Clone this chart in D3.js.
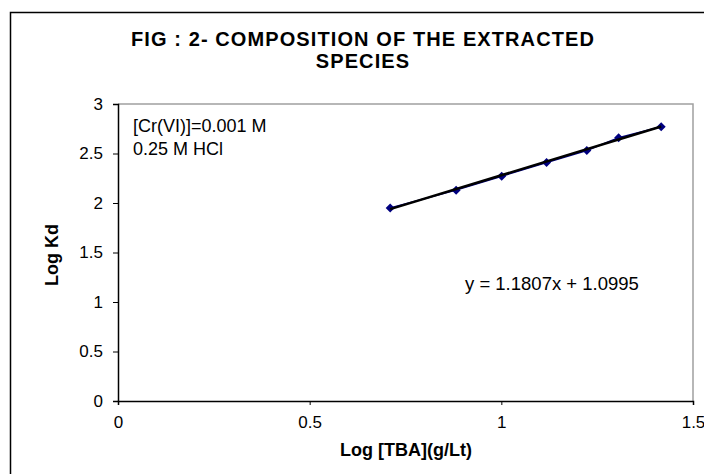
<!DOCTYPE html>
<html><head><meta charset="utf-8">
<script src="https://cdn.jsdelivr.net/npm/d3@7"></script>
<style>body{margin:0;background:#fff}svg{display:block}text{font-family:"Liberation Sans",Arial,sans-serif;fill:#000}</style>
</head><body>
<script>
const logTBA = [0.710, 0.882, 1.001, 1.118, 1.223, 1.306, 1.417];
const logKd  = [1.95, 2.13, 2.27, 2.41, 2.53, 2.66, 2.77];
const xTicks = [0, 0.5, 1, 1.5];
const xTickLabels = ["0", "0.5", "1", "1.5"];
const yTicks = [0, 0.5, 1, 1.5, 2, 2.5, 3];
const yTickLabels = ["0", "0.5", "1", "1.5", "2", "2.5", "3"];
const fitSlope = 1.1807, fitIntercept = 1.0995;
const titleLines = ["FIG : 2- COMPOSITION OF THE EXTRACTED", "SPECIES"];
const notes = ["[Cr(VI)]=0.001 M", "0.25 M HCl"];

const W = 704, H = 474;
const FONT = "Liberation Sans, Arial, sans-serif";
const svg = d3.select("body").append("svg").attr("width", W).attr("height", H);
svg.append("rect").attr("x", 10.5).attr("y", 12.5).attr("width", 720).attr("height", 500)
  .attr("fill", "#fff").attr("stroke", "#000").attr("stroke-width", 1.5);

const x = d3.scaleLinear().domain([0, 1.5]).range([118, 693]);
const y = d3.scaleLinear().domain([0, 3]).range([401, 104]);

// plot area border (top/right gray)
svg.append("path").attr("d", `M${x(0)},${y(3)}H${x(1.5)}V${y(0)}`)
  .attr("fill", "none").attr("stroke", "#a0a0a0").attr("stroke-width", 1.5);

const gx = svg.append("g").attr("transform", `translate(0,${y(0)})`)
  .call(d3.axisBottom(x).tickValues(xTicks).tickFormat((d, i) => xTickLabels[i]).tickSize(4).tickPadding(11));
const gy = svg.append("g").attr("transform", `translate(${x(0)},0)`)
  .call(d3.axisLeft(y).tickValues(yTicks).tickFormat((d, i) => yTickLabels[i]).tickSize(5).tickPadding(10));
[gx, gy].forEach(g => {
  g.select(".domain").attr("stroke", "#000").attr("stroke-width", 1.5);
  g.selectAll(".tick line").attr("stroke", "#000");
  g.selectAll("text").attr("font-size", 17).attr("font-family", FONT).attr("fill", "#000");
});

const pts = logTBA.map((v, i) => [v, logKd[i]]);
svg.append("path").datum(pts)
  .attr("d", d3.line().x(d => x(d[0])).y(d => y(d[1])))
  .attr("fill", "none").attr("stroke", "#000080").attr("stroke-width", 1.5);
svg.selectAll(".pt").data(pts).enter().append("path")
  .attr("transform", d => `translate(${x(d[0])},${y(d[1])})`)
  .attr("d", "M0,-4.5L4.5,0L0,4.5L-4.5,0Z").attr("fill", "#000080");

const xmin = d3.min(logTBA), xmax = d3.max(logTBA);
svg.append("line")
  .attr("x1", x(xmin)).attr("y1", y(fitSlope * xmin + fitIntercept))
  .attr("x2", x(xmax)).attr("y2", y(fitSlope * xmax + fitIntercept))
  .attr("stroke", "#000").attr("stroke-width", 2.5);

titleLines.forEach((t, i) => svg.append("text").attr("x", 363).attr("y", 46 + i * 22)
  .attr("text-anchor", "middle").attr("font-size", 20).attr("font-weight", "bold")
  .attr("letter-spacing", 1.1).text(t));
notes.forEach((t, i) => svg.append("text").attr("x", 133).attr("y", 132 + i * 23)
  .attr("font-size", 18).text(t));
svg.append("text").attr("x", 465).attr("y", 290).attr("font-size", 18.5)
  .text(`y = ${fitSlope}x + ${fitIntercept}`);

svg.append("text").attr("x", 406).attr("y", 456).attr("text-anchor", "middle")
  .attr("font-size", 18).attr("font-weight", "bold").text("Log [TBA](g/Lt)");
svg.append("text").attr("transform", "translate(58,255) rotate(-90)").attr("text-anchor", "middle")
  .attr("font-size", 18).attr("font-weight", "bold").text("Log Kd");
</script>
</body></html>
